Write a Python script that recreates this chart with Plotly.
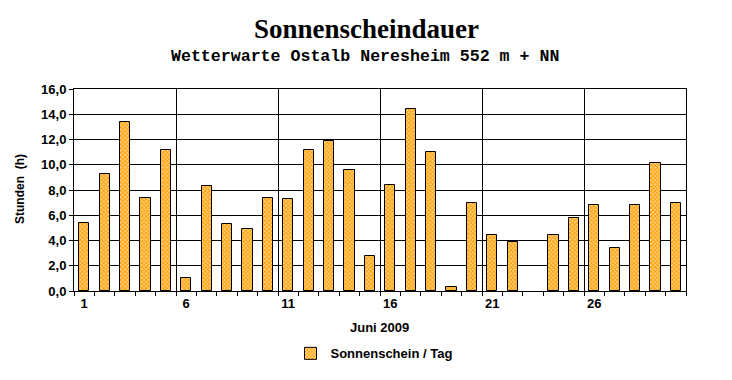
import plotly.graph_objects as go

days = list(range(1, 31))
sunshine = [5.4, 9.3, 13.4, 7.4, 11.2, 1.0, 8.3, 5.3, 4.9, 7.4,
            7.3, 11.2, 11.9, 9.6, 2.8, 8.4, 14.4, 11.0, 0.3, 7.0,
            4.4, 3.9, None, 4.4, 5.8, 6.8, 3.4, 6.8, 10.1, 7.0]
label_days = [1, 6, 11, 16, 21, 26]
grid_days = [5.5, 10.5, 15.5, 20.5, 25.5]
boundaries = [d + 0.5 for d in range(0, 31)]

W, H = 732, 380
L, R, T, B = 74, 686, 89, 293
pw, ph = R - L, B - T

def px(x):
    return (x - L) / pw

def py(y):
    return (B - y) / ph

sans = "Liberation Sans"

fig = go.Figure()
fig.add_trace(go.Bar(
    x=days, y=sunshine, width=0.5, name="Sonnenschein / Tag",
    marker=dict(color="#FFCC66", line=dict(color="black", width=1),
                pattern=dict(shape="x", bgcolor="#FFD580", fgcolor="#FF9900",
                             size=3, solidity=0.5, fillmode="replace")),
    xaxis="x", yaxis="y",
))

fig.update_layout(
    width=W, height=H,
    margin=dict(l=L, r=W - R, t=T, b=H - B, pad=0),
    paper_bgcolor="white", plot_bgcolor="white",
    separators=",.",
    showlegend=True,
    legend=dict(orientation="h", x=px(374), xanchor="center", y=py(356), yanchor="middle",
                font=dict(family=sans, size=13, color="black", weight="bold")),
    bargap=0,
    xaxis=dict(range=[0.5, 30.5], tickvals=label_days, ticktext=[str(d) for d in label_days],
               ticks="", showgrid=False, zeroline=False,
               showline=True, linecolor="black", linewidth=1, mirror=True,
               tickfont=dict(family=sans, size=13, color="black", weight="bold"),
               minor=dict(tickvals=boundaries, ticks="outside", ticklen=4,
                          tickcolor="black", showgrid=False)),
    xaxis2=dict(range=[0.5, 30.5], overlaying="x", tickvals=grid_days, showticklabels=False,
                ticks="", showgrid=True, gridcolor="black", gridwidth=1, zeroline=False,
                showline=False),
    yaxis=dict(range=[0, 16], dtick=2, tickformat=".1f", ticks="outside", ticklen=4,
               tickcolor="black", showgrid=True, gridcolor="black", gridwidth=1,
               zeroline=False, showline=True, linecolor="black", linewidth=1, mirror=True,
               tickfont=dict(family=sans, size=13, color="black", weight="bold")),
    annotations=[
        dict(text="Sonnenscheindauer", xref="paper", yref="paper", x=px(366), y=py(28),
             xanchor="center", yanchor="middle", showarrow=False,
             font=dict(family="Liberation Serif", size=27, color="black", weight="bold")),
        dict(text="Wetterwarte Ostalb Neresheim 552 m + NN", xref="paper", yref="paper",
             x=px(365), y=py(56), xanchor="center", yanchor="middle", showarrow=False,
             font=dict(family="Liberation Mono", size=16.6, color="black", weight="bold")),
        dict(text="Stunden  (h)", xref="paper", yref="paper", x=px(20), y=py(190),
             xanchor="center", yanchor="middle", showarrow=False, textangle=-90,
             font=dict(family=sans, size=12, color="black", weight="bold")),
        dict(text="Juni 2009", xref="paper", yref="paper", x=px(379), y=py(330),
             xanchor="center", yanchor="middle", showarrow=False,
             font=dict(family=sans, size=13, color="black", weight="bold")),
    ],
)
# invisible trace to anchor xaxis2
fig.add_trace(go.Scatter(x=[1], y=[0], xaxis="x2", yaxis="y", mode="markers",
                         marker=dict(opacity=0), showlegend=False, hoverinfo="skip"))

fig.write_html("out.html", config={"displayModeBar": False},
               post_script="document.body.style.margin='0';")
